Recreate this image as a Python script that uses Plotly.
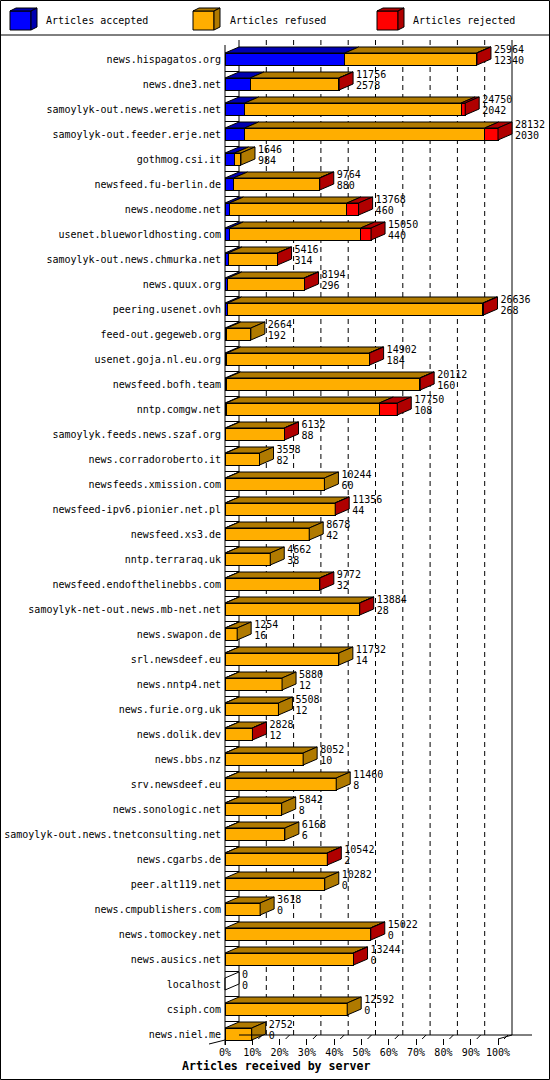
import plotly.graph_objects as go

#------------------------------------------------------------
#                          DATA
#------------------------------------------------------------

hosts = ['news.hispagatos.org', 'news.dne3.net', 'samoylyk-out.news.weretis.net',
         'samoylyk-out.feeder.erje.net', 'gothmog.csi.it', 'newsfeed.fu-berlin.de',
         'news.neodome.net', 'usenet.blueworldhosting.com', 'samoylyk-out.news.chmurka.net',
         'news.quux.org', 'peering.usenet.ovh', 'feed-out.gegeweb.org',
         'usenet.goja.nl.eu.org', 'newsfeed.bofh.team', 'nntp.comgw.net',
         'samoylyk.feeds.news.szaf.org', 'news.corradoroberto.it', 'newsfeeds.xmission.com',
         'newsfeed-ipv6.pionier.net.pl', 'newsfeed.xs3.de', 'nntp.terraraq.uk',
         'newsfeed.endofthelinebbs.com', 'samoylyk-net-out.news.mb-net.net', 'news.swapon.de',
         'srl.newsdeef.eu', 'news.nntp4.net', 'news.furie.org.uk', 'news.dolik.dev',
         'news.bbs.nz', 'srv.newsdeef.eu', 'news.sonologic.net',
         'samoylyk-out.news.tnetconsulting.net', 'news.cgarbs.de', 'peer.alt119.net',
         'news.cmpublishers.com', 'news.tomockey.net', 'news.ausics.net', 'localhost',
         'csiph.com', 'news.niel.me']

total_articles = [25964, 11756, 24750, 28132, 1646, 9764, 13768, 15050, 5416, 8194,
                  26636, 2664, 14902, 20112, 17750, 6132, 3558, 10244, 11356, 8678,
                  4662, 9772, 13884, 1254, 11732, 5880, 5508, 2828, 8052, 11460,
                  5842, 6168, 10542, 10282, 3618, 15022, 13244, 0, 12592, 2752]

accepted = [12340, 2578, 2042, 2030, 984, 880, 460, 440, 314, 296,
            268, 192, 184, 160, 108, 88, 82, 60, 44, 42,
            38, 32, 28, 16, 14, 12, 12, 12, 10, 8,
            8, 6, 2, 0, 0, 0, 0, 0, 0, 0]

rejected = [40, 30, 420, 1370, 0, 40, 1200, 1070, 30, 50,
            60, 0, 50, 40, 1850, 30, 0, 0, 20, 0,
            0, 20, 20, 0, 0, 0, 0, 20, 0, 0,
            0, 0, 20, 0, 0, 30, 30, 0, 0, 0]

refused = [t - a - r for t, a, r in zip(total_articles, accepted, rejected)]

pct_ticks = [0, 10, 20, 30, 40, 50, 60, 70, 80, 90, 100]

#------------------------------------------------------------
#                       GEOMETRY
#------------------------------------------------------------

W, H = 550, 1080
ml, mr, mt, mb = 200, 10, 40, 35
pw = W - ml - mr
ph = H - mt - mb

x0_px = 225      # page x of 0%
full_px = 273    # width of 0..100%
dx_px, dz_px = 14, 6
row_px = 25

vmax = max(total_articles)
ppu = full_px / vmax
dx = dx_px / ppu
dz = dz_px / row_px
hh = 0.24
n = len(hosts)
idx = list(range(n))

y_top = -0.76
y_bottom = n - 0.56
y_floor_back = y_bottom - 10 / row_px

FONT = "DejaVu Sans Mono"
colors = {'acc': ('#0000ff', '#0000b0'),
          'ref': ('#ffae00', '#b07a00'),
          'rej': ('#ff0000', '#b00000')}


def pxp(x):
    return (x - ml) / pw


def pyp(y):
    return 1 - (y - mt) / ph


def face(xs, ys, fill):
    return go.Scatter(x=xs, y=ys, mode='lines', fill='toself', fillcolor=fill,
                      line=dict(color='black', width=1), hoverinfo='skip',
                      showlegend=False)


#------------------------------------------------------------
#                       PLOTTING
#------------------------------------------------------------

fig = go.Figure()

series = [('acc', accepted), ('ref', refused), ('rej', rejected)]
for key, vals in series:
    fig.add_trace(go.Bar(y=idx, x=vals, orientation='h', width=2 * hh,
                         marker=dict(color=colors[key][0], line=dict(color='black', width=1)),
                         cliponaxis=False, showlegend=False, hoverinfo='skip'))

# top faces
for s, (key, vals) in enumerate(series):
    xs, ys = [], []
    for i in idx:
        a = sum(series[k][1][i] for k in range(s))
        b = a + vals[i]
        if vals[i] <= 0:
            continue
        xs += [a, b, b + dx, a + dx, a, None]
        ys += [i - hh, i - hh, i - hh - dz, i - hh - dz, i - hh, None]
    fig.add_trace(face(xs, ys, colors[key][1]))

# side faces, coloured by last non empty segment
side = {'acc': ([], []), 'ref': ([], []), 'rej': ([], []), 'none': ([], [])}
for i in idx:
    e = total_articles[i]
    last = 'none'
    for key, vals in series:
        if vals[i] > 0:
            last = key
    xs, ys = side[last]
    xs += [e, e + dx, e + dx, e, e, None]
    ys += [i - hh, i - hh - dz, i + hh - dz, i + hh, i - hh, None]
for key, (xs, ys) in side.items():
    fig.add_trace(face(xs, ys, colors[key][1] if key != 'none' else 'white'))

# value labels
lab_x = [t + dx + 3 / ppu for t in total_articles]
fig.add_trace(go.Scatter(x=lab_x, y=[i - 0.36 for i in idx], mode='text',
                         text=[str(t) for t in total_articles], textposition='middle right',
                         textfont=dict(family=FONT, size=10, color='black'),
                         cliponaxis=False, showlegend=False, hoverinfo='skip'))
fig.add_trace(go.Scatter(x=lab_x, y=[i + 0.08 for i in idx], mode='text',
                         text=[str(a) for a in accepted], textposition='middle right',
                         textfont=dict(family=FONT, size=10, color='black'),
                         cliponaxis=False, showlegend=False, hoverinfo='skip'))

#------------------------------------------------------------
#                    WALLS AND FLOOR
#------------------------------------------------------------

shapes = []
line_k = dict(color='black', width=1)
for p in pct_ticks:
    xv = vmax * p / 100 + dx
    shapes.append(dict(type='line', xref='x', yref='y', x0=xv, x1=xv,
                       y0=y_top, y1=y_floor_back, layer='below',
                       line=dict(color='black', width=1,
                                 dash='solid' if p in (0, 100) else '5px,4px')))
    if 0 < p:
        v = vmax * p / 100
        shapes.append(dict(type='line', xref='x', yref='y', x0=v + 6 / ppu, x1=v + 10 / ppu,
                           y0=y_bottom - 6 / row_px, y1=y_floor_back, line=line_k))

# front edge of left wall
shapes.append(dict(type='line', xref='x', yref='y', x0=0, x1=0,
                   y0=y_top + 5 / row_px, y1=y_bottom, line=line_k))
# left wall row lines
for i in idx[:-1]:
    shapes.append(dict(type='line', xref='x', yref='y', x0=0, x1=dx,
                       y0=i + 0.5, y1=i + 0.5, layer='below', line=line_k))
# floor
shapes.append(dict(type='line', xref='x', yref='y', x0=dx, x1=(532 - x0_px) / ppu,
                   y0=y_floor_back, y1=y_floor_back, line=line_k))
shapes.append(dict(type='line', xref='x', yref='y', x0=vmax, x1=vmax + dx,
                   y0=y_bottom - 6 / row_px, y1=y_floor_back, line=line_k))
shapes.append(dict(type='line', xref='x', yref='y', x0=-16 / ppu, x1=0,
                   y0=y_bottom - 1 / row_px, y1=y_bottom - 5 / row_px, line=line_k))

# legend box
legend_items = [('Articles accepted', 'acc', 10, 44),
                ('Articles refused', 'ref', 193, 228),
                ('Articles rejected', 'rej', 377, 411)]
annotations = []
for text, key, ix, tx in legend_items:
    front = "M {},{} L {},{} L {},{} L {},{} Z".format(
        pxp(ix), pyp(11), pxp(ix + 21), pyp(11), pxp(ix + 21), pyp(30), pxp(ix), pyp(30))
    top = "M {},{} L {},{} L {},{} L {},{} Z".format(
        pxp(ix), pyp(11), pxp(ix + 21), pyp(11), pxp(ix + 27), pyp(8), pxp(ix + 6), pyp(8))
    sd = "M {},{} L {},{} L {},{} L {},{} Z".format(
        pxp(ix + 21), pyp(11), pxp(ix + 27), pyp(8), pxp(ix + 27), pyp(27), pxp(ix + 21), pyp(30))
    for path, col in ((front, colors[key][0]), (top, colors[key][1]), (sd, colors[key][1])):
        shapes.append(dict(type='path', xref='paper', yref='paper', path=path,
                           fillcolor=col, line=line_k))
    annotations.append(dict(xref='paper', yref='paper', x=pxp(tx), y=pyp(20.5),
                            xanchor='left', yanchor='middle', showarrow=False, text=text,
                            font=dict(family=FONT, size=10, color='black')))

shapes.append(dict(type='line', xref='paper', yref='paper', x0=pxp(0), x1=pxp(W),
                   y0=pyp(35), y1=pyp(35), line=line_k))
shapes.append(dict(type='rect', xref='paper', yref='paper', x0=pxp(0.5), x1=pxp(W - 0.5),
                   y0=pyp(0.5), y1=pyp(H - 0.5), line=line_k))

annotations.append(dict(xref='paper', yref='paper', x=pxp(180), y=pyp(1066),
                        xanchor='left', yanchor='middle', showarrow=False,
                        text='<b>Articles received by server</b>',
                        font=dict(family=FONT, size=11.6, color='black')))

fig.update_layout(
    width=W, height=H,
    margin=dict(l=ml, r=mr, t=mt, b=mb, autoexpand=False),
    barmode='stack',
    plot_bgcolor='white', paper_bgcolor='white',
    shapes=shapes, annotations=annotations,
    showlegend=False,
    xaxis=dict(range=[-(x0_px - ml) / ppu, (W - mr - x0_px) / ppu], automargin=False,
               tickvals=[vmax * p / 100 for p in pct_ticks],
               ticktext=['{}%'.format(p) for p in pct_ticks],
               ticks='inside', ticklen=6, tickcolor='black', tickwidth=1,
               showgrid=False, zeroline=False, showline=False,
               tickfont=dict(family=FONT, size=10, color='black')),
    yaxis=dict(range=[y_bottom, y_top], anchor='free', position=(x0_px - ml) / pw,
               automargin=False,
               tickvals=idx, ticktext=hosts, ticks='', ticklabelstandoff=4,
               showgrid=False, zeroline=False, showline=False,
               tickfont=dict(family=FONT, size=10, color='black')),
)

# the page body has a default margin, drop it so the chart fills the window
fig.write_html("out.html", config={'displayModeBar': False},
               post_script="document.body.style.margin = '0';")
